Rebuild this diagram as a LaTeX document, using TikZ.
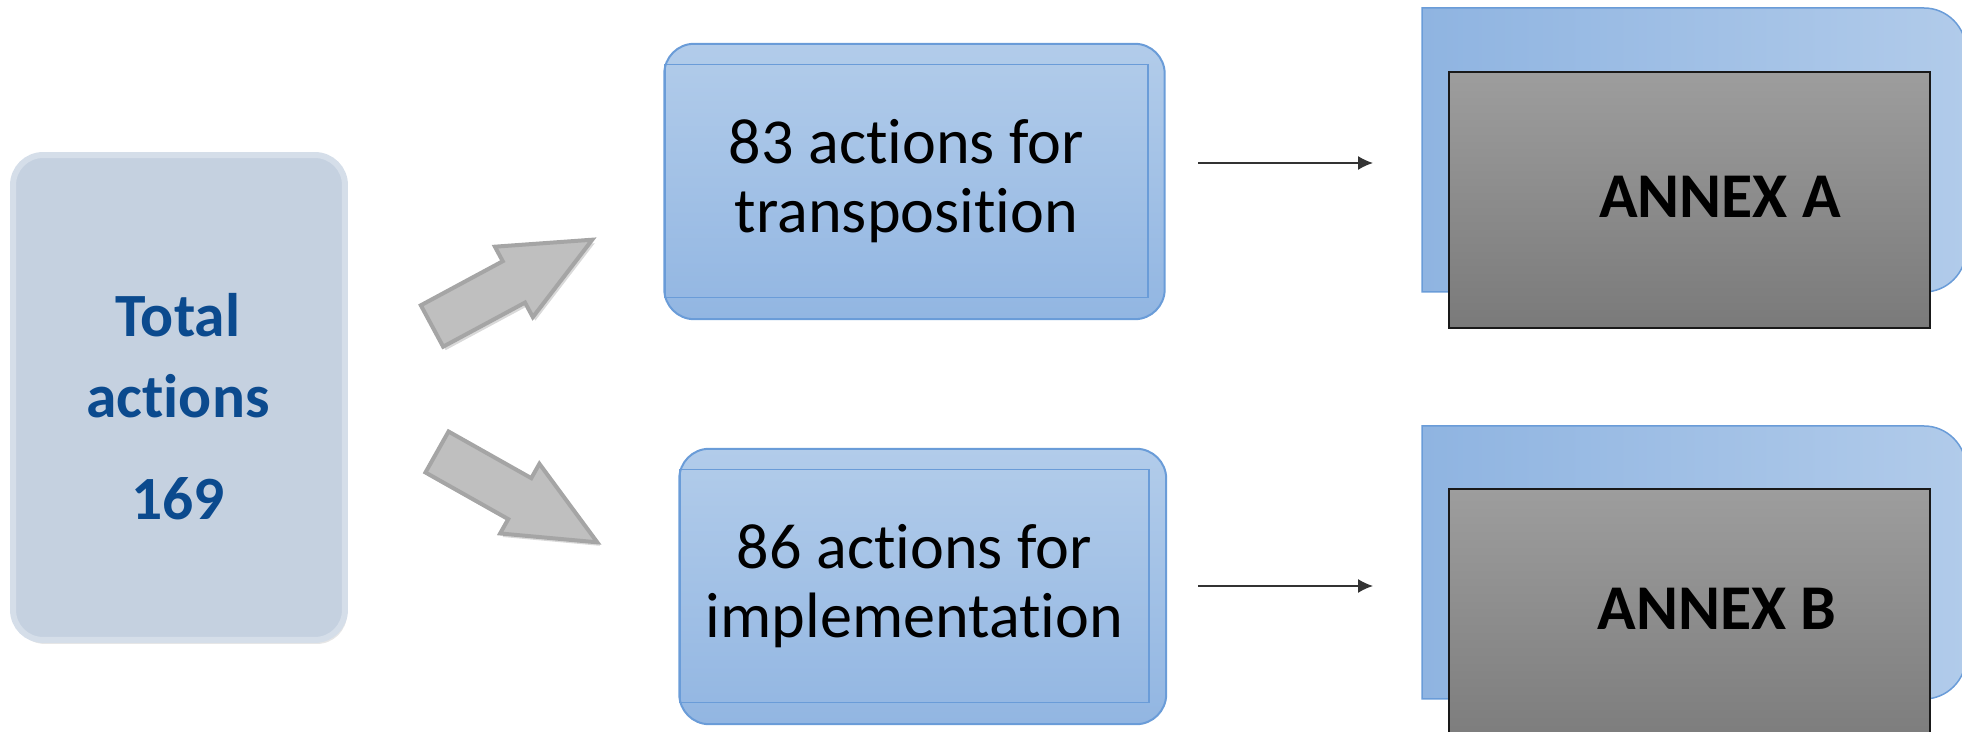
\documentclass[tikz,border=0pt]{standalone}
\usepackage{fontspec}
\setmainfont{Carlito}[Ligatures={TeX,NoCommon}]
\usetikzlibrary{arrows.meta,shadows,backgrounds}
\definecolor{totalfill}{HTML}{C5D1E0}
\definecolor{totalline}{HTML}{D5DEE9}
\definecolor{totaltext}{HTML}{0B4A8E}
\definecolor{boxtop}{HTML}{B2CCEA}
\definecolor{boxbot}{HTML}{92B6E2}
\definecolor{boxline}{HTML}{6A9CD8}
\definecolor{annexleft}{HTML}{8FB4E1}
\definecolor{annexright}{HTML}{B1CBEA}
\definecolor{greytop}{HTML}{9D9D9D}
\definecolor{greybot}{HTML}{7A7A7A}
\definecolor{arrowfill}{HTML}{BFBFBF}
\definecolor{arrowline}{HTML}{A5A5A5}

\begin{document}
\begin{tikzpicture}[>={Latex[length=0.3cm,width=0.28cm]}, x=0.02cm, y=-0.02cm,
  totaltxt/.style={font=\fontsize{35pt}{40pt}\selectfont\bfseries, text=totaltext, anchor=base, inner sep=0pt},
  actbox/.style={draw=boxline, line width=0.03cm, minimum height=4.66cm, align=center,
    font=\fontsize{36.5pt}{39.3pt}\selectfont},
  outbox/.style={draw=boxline, line width=0.04cm, rounded corners=0.6cm, top color=boxtop, bottom color=boxbot},
  greybox/.style={draw=black!90, line width=0.04cm, top color=greytop, bottom color=greybot, minimum width=9.62cm, inner sep=0pt},
  annextxt/.style={font=\fontsize{36.3pt}{40pt}\selectfont\bfseries, anchor=base, inner sep=0pt},
  bigarrow/.style={fill=arrowfill, draw=arrowline, line width=0.08cm, line join=miter,
    drop shadow={opacity=0.3, shadow xshift=0.05cm, shadow yshift=-0.07cm}}
]
\useasboundingbox (0,0) rectangle (1962,732);

% left box
\node[draw=totalline, line width=0.12cm, fill=totalfill, rounded corners=0.6cm, minimum width=6.64cm, minimum height=9.7cm,
  drop shadow={opacity=0.2, shadow xshift=0.04cm, shadow yshift=-0.08cm}] (total) at (179,397.5) {};
\foreach \t/\y/\n in {Total/337/t1, actions/418/t2, 169/520/t3}
  \node[totaltxt] (\n) at (178,\y) {\t};

% big grey arrows
\begin{scope}[shift={(432,326)}, rotate=28.3]
  \draw[bigarrow] (0,-23.5) -- (93,-23.5) -- (93,-40) -- (182,0) -- (93,40) -- (93,23.5) -- (0,23.5) -- cycle;
\end{scope}
\begin{scope}[shift={(437,452)}, rotate=-29.4]
  \draw[bigarrow] (0,-23.5) -- (95,-23.5) -- (95,-40) -- (184,0) -- (95,40) -- (95,23.5) -- (0,23.5) -- cycle;
\end{scope}

% middle boxes
\node[actbox, minimum width=9.66cm] (trans) at (906.5,181) {83 actions for\\transposition};
\node[actbox, minimum width=9.38cm] (impl) at (914.5,586) {86 actions for\\implementation};
\begin{scope}[on background layer]
  \path[outbox] ([yshift=0.4cm]trans.north west) rectangle ([xshift=0.32cm,yshift=-0.42cm]trans.south east);
  \path[outbox] ([yshift=0.4cm]impl.north west) rectangle ([xshift=0.33cm,yshift=-0.42cm]impl.south east);
\end{scope}

% annex panels
\foreach \y/\h in {8/284, 426/273}
{
  \shade[left color=annexleft, right color=annexright, draw=boxline, line width=0.03cm]
    (1422,\y) -- (1924,\y) .. controls (1947,\y) and (1966,\y+19) .. (1966,\y+42)
    -- (1966,\y+\h-42) .. controls (1966,\y+\h-19) and (1947,\y+\h) .. (1924,\y+\h) -- (1422,\y+\h) -- cycle;
}
\node[greybox, minimum height=5.12cm] (greyA) at (1689.5,200) {};
\node[greybox, minimum height=5.42cm] (greyB) at (1689.5,624.5) {};
\node[annextxt] (annexA) at (1720,218) {ANNEX A};
\node[annextxt] (annexB) at (1717,630) {ANNEX B};

% connectors
\coordinate (outA) at (1198,163); \coordinate (inA) at (1373,163);
\coordinate (outB) at (1198,586); \coordinate (inB) at (1373,586);
\draw[->, line width=0.03cm, black!80] (outA) -- (inA);
\draw[->, line width=0.03cm, black!80] (outB) -- (inB);

\end{tikzpicture}
\end{document}
